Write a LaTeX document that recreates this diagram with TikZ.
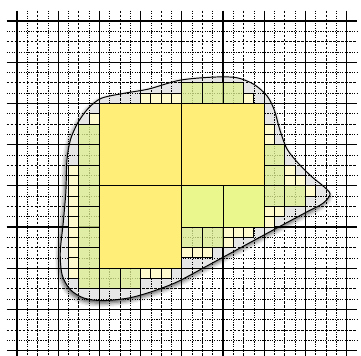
\documentclass[tikz,border=0pt]{standalone}
\usepackage{xcolor}
\usepackage{tikz}
\usetikzlibrary{shadows.blur}

\definecolor{cellbig}{HTML}{FFEF78}
\definecolor{cellmid}{HTML}{EAF78C}
\definecolor{cellsmall}{HTML}{DDF28F}
\definecolor{celltiny}{HTML}{FFFACD}
\definecolor{regiongray}{HTML}{E6E6E6}

\tikzset{
  gridmajor/.style={line width=0.9pt},
  gridhalf/.style={line width=0.55pt, dash pattern=on 2.2pt off 1.1pt},
  gridfine/.style={line width=0.55pt, dash pattern=on 1pt off 1pt},
  cell/.style={draw=black, line width=0.7pt},
}

\begin{document}
\begin{tikzpicture}[x=0.3cm, y=-0.3cm]
  \useasboundingbox (-1.65,-2.04) rectangle (33.4,32.52);

  % Region outline (used twice)
  \def\regionpath{plot[smooth cycle] coordinates {
    (15.8,5.75) (19.0,5.45) (21.3,5.5) (23.0,6.15) (24.3,7.3) (25.0,8.7)
    (25.5,10.5) (26.2,12.4) (27.3,13.8) (28.6,15.1) (29.7,16.0) (30.4,16.8)
    (29.7,17.7) (28.2,18.5) (25.5,19.95) (22.0,21.85) (18.5,23.75) (15.5,25.35)
    (13.0,26.3) (10.8,26.9) (8.3,27.15) (6.5,26.9) (5.2,26.1) (4.4,24.7)
    (4.2,22.5) (4.5,19.5) (4.75,16.5) (4.85,13.5) (5.2,11.5) (5.9,9.9)
    (6.9,8.5) (8.2,7.5) (10.5,7.0) (12.8,6.6)}}

  % Region fill with shadow
  \fill[regiongray, blur shadow={shadow xshift=-1pt, shadow yshift=-2.2pt,
    shadow blur radius=3.5pt, shadow opacity=70}] \regionpath;

  % Grid: fine, half and major lines
  \foreach \k in {1,3,...,31} {
    \draw[gridfine] (\k,-1) -- (\k,33);
    \draw[gridfine] (-1,\k) -- (33,\k);
  }
  \foreach \k in {2,6,...,30} {
    \draw[gridhalf] (\k,-1) -- (\k,33);
    \draw[gridhalf] (-1,\k) -- (33,\k);
  }
  \foreach \k in {0,4,...,32} {
    \draw[gridmajor] (\k,-1) -- (\k,33);
    \draw[gridmajor] (-1,\k) -- (33,\k);
  }

  % Cells of side 8
  \foreach \i/\j in {8/8,16/8,8/16}
    \filldraw[cell, fill=cellbig] (\i,\j) rectangle ++(8,8);

  % Cells of side 4
  \foreach \i/\j in {16/16,20/16}
    \filldraw[cell, fill=cellmid] (\i,\j) rectangle ++(4,4);

  % Cells of side 2
  \foreach \i/\j in {16/6,18/6,20/6,6/10,6/12,6/14,6/16,6/18,6/20,6/22,6/24,
                     8/24,10/24,24/12,24/14,24/16,26/16,16/20,18/20}
    \filldraw[cell, fill=cellsmall, fill opacity=0.75] (\i,\j) rectangle ++(2,2);

  % Cells of side 1
  \foreach \i/\j in {12/7,13/7,14/7,15/7,22/7,7/9,
                     5/14,5/15,5/16,5/17,5/18,5/19,5/20,5/21,5/22,5/23,5/24,
                     12/24,13/24,14/24,24/10,24/11,26/14,26/15,27/15,28/16,
                     24/18,25/18,24/19,20/20,21/20,22/20,20/21,16/22,17/22,18/22}
    \filldraw[cell, fill=celltiny] (\i,\j) rectangle ++(1,1);

  % Region border
  \draw[line width=0.8pt] \regionpath;
\end{tikzpicture}
\end{document}
